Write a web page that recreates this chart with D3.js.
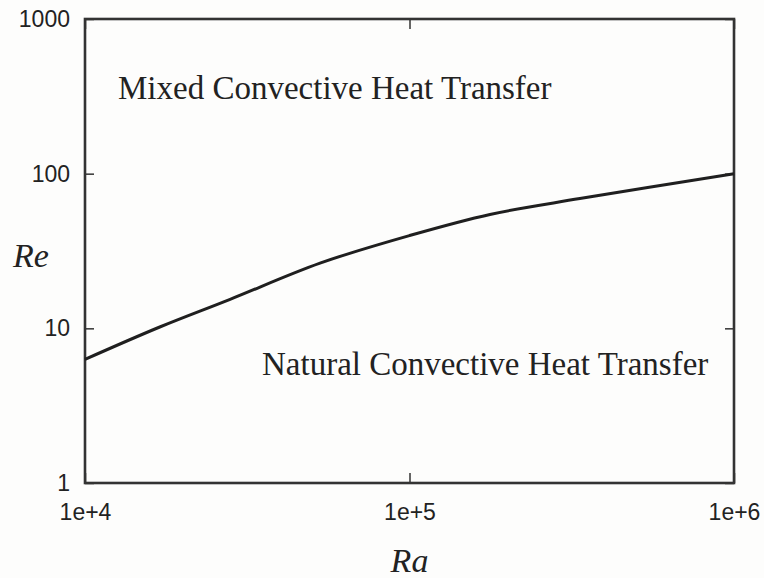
<!DOCTYPE html>
<html>
<head>
<meta charset="utf-8">
<script src="https://cdn.jsdelivr.net/npm/d3@7"></script>
<style>
  body { margin: 0; background: #fdfdfc; }
  svg { display: block; }
  .tick text { font-family: "Liberation Sans", Arial, sans-serif; font-size: 23px; fill: #222; }
  .note { font-family: "Liberation Serif", "Times New Roman", serif; font-size: 33px; fill: #222; }
  .title { font-family: "Liberation Serif", "Times New Roman", serif; font-style: italic; font-size: 34px; fill: #222; }
</style>
</head>
<body>
<script>
// Re vs Ra boundary curve
const raValues = [1e4, 1.7e4, 2.8e4, 5.3e4, 1e5, 1.77e5, 3.35e5, 1e6];
const reValues = [6.3, 10.2, 15.4, 26.4, 39.8, 54.5, 69, 100];

const xTicks = [1e4, 1e5, 1e6];
const xTickLabels = ['1e+4', '1e+5', '1e+6'];
const yTicks = [1, 10, 100, 1000];
const yTickLabels = ['1', '10', '100', '1000'];

const width = 764;
const height = 578;
const margin = {top: 19, right: 30, bottom: 95, left: 85};
const innerW = width - margin.left - margin.right;
const innerH = height - margin.top - margin.bottom;

const svg = d3.select('body').append('svg')
  .attr('width', width)
  .attr('height', height);

const g = svg.append('g')
  .attr('transform', `translate(${margin.left},${margin.top})`);

const x = d3.scaleLog()
  .domain([1e4, 1e6])
  .range([0, innerW]);

const y = d3.scaleLog()
  .domain([1, 1000])
  .range([innerH, 0]);

g.append('g')
  .attr('transform', `translate(0,${innerH})`)
  .call(d3.axisBottom(x)
    .tickValues(xTicks)
    .tickFormat((d, i) => xTickLabels[i])
    .tickSize(-10)
    .tickPadding(21));

g.append('g')
  .call(d3.axisLeft(y)
    .tickValues(yTicks)
    .tickFormat((d, i) => yTickLabels[i])
    .tickSize(-9)
    .tickPadding(15));

// mirrored ticks on the right and top
g.append('g')
  .attr('transform', `translate(${innerW},0)`)
  .call(d3.axisRight(y)
    .tickValues(yTicks)
    .tickFormat('')
    .tickSize(-9));

g.append('g')
  .call(d3.axisTop(x)
    .tickValues(xTicks)
    .tickFormat('')
    .tickSize(-10));

g.selectAll('.domain').remove();
g.selectAll('.tick line')
  .attr('stroke', '#333')
  .attr('stroke-width', 1.5);

g.append('rect')
  .attr('width', innerW)
  .attr('height', innerH)
  .attr('fill', 'none')
  .attr('stroke', '#333')
  .attr('stroke-width', 2.6);

const line = d3.line()
  .x(d => x(d[0]))
  .y(d => y(d[1]))
  .curve(d3.curveCatmullRom.alpha(0.5));

g.append('path')
  .datum(raValues.map((r, i) => [r, reValues[i]]))
  .attr('d', line)
  .attr('fill', 'none')
  .attr('stroke', '#1f1f1f')
  .attr('stroke-width', 3);

svg.append('text')
  .attr('class', 'note')
  .attr('x', 118)
  .attr('y', 99)
  .text('Mixed Convective Heat Transfer');

svg.append('text')
  .attr('class', 'note')
  .attr('x', 262)
  .attr('y', 375)
  .text('Natural Convective Heat Transfer');

svg.append('text')
  .attr('class', 'title')
  .attr('x', margin.left + innerW / 2)
  .attr('y', 572)
  .attr('text-anchor', 'middle')
  .text('Ra');

svg.append('text')
  .attr('class', 'title')
  .attr('x', 31)
  .attr('y', 267)
  .attr('text-anchor', 'middle')
  .text('Re');
</script>
</body>
</html>
